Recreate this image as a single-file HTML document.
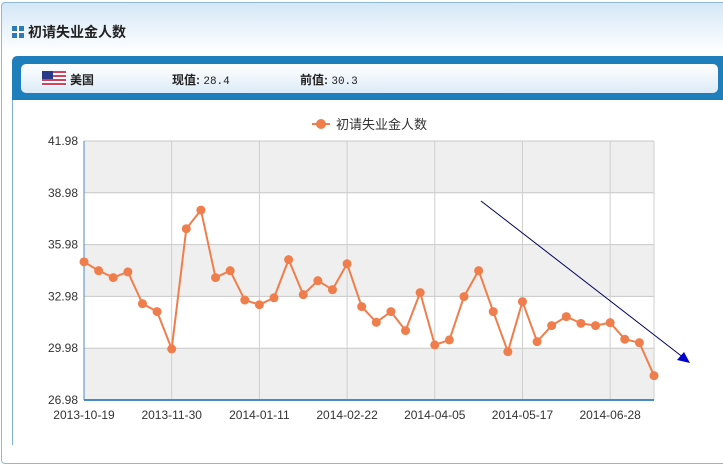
<!DOCTYPE html>
<html><head><meta charset="utf-8">
<style>
body{margin:0;width:723px;height:440px;overflow:hidden;background:#fff;font-family:"Liberation Sans","Noto Sans CJK SC",sans-serif;position:relative}
.frame{position:absolute;left:1px;top:2px;width:740px;height:460px;border:1px solid #8fb8d6;border-radius:4px;background:linear-gradient(#d4e7f6,#fff 50px)}
.title{position:absolute;left:12px;top:22px;font-size:14px;font-weight:bold;color:#222}
.icon{display:inline-block;width:12px;height:12px;vertical-align:-1px;margin-right:4px;background:
linear-gradient(#fff,#fff) 5px 0/2px 12px no-repeat,linear-gradient(#fff,#fff) 0 5px/12px 2px no-repeat,#2c7bb6}
.band{position:absolute;left:12px;top:56px;width:720px;height:44px;background:#1f7fbd;border-radius:5px 0 0 0}
.inner{position:absolute;left:21px;top:64px;width:697px;height:29px;border-radius:5px;background:linear-gradient(#fff,#dcebf7)}
.panel{position:absolute;left:12px;top:100px;width:720px;height:345px;border-left:1px solid #7fb0d4;background:#fff}
.lbl{position:absolute;top:71px;font-size:12px;font-weight:bold;color:#222}
.val{font-weight:normal;font-family:"Liberation Mono",monospace;font-size:11px}
</style></head><body>
<div class="frame"></div>
<div class="title"><span class="icon"></span>初请失业金人数</div>
<div class="band"></div>
<div class="inner"></div>
<svg style="position:absolute;left:42px;top:71px" width="24" height="15">
<rect width="24" height="15" fill="#fff"/><g fill="#d2425a"><rect y="0" width="24" height="2"/><rect y="4" width="24" height="2"/><rect y="8" width="24" height="2"/><rect y="12" width="24" height="2"/></g><rect width="11" height="8" fill="#2a3a8a"/></svg>
<div class="lbl" style="left:70px">美国</div>
<div class="lbl" style="left:172px">现值: <span class="val">28.4</span></div>
<div class="lbl" style="left:300px">前值: <span class="val">30.3</span></div>
<div class="panel"></div>
<svg id="chart" style="position:absolute;left:0;top:0" width="723" height="440"></svg>
<script>
const values=[34.98,34.47,34.07,34.4,32.56,32.1,29.94,36.9,37.98,34.07,34.47,32.77,32.5,32.9,35.11,33.08,33.89,33.37,34.87,32.39,31.48,32.1,31.0,33.2,30.17,30.46,32.97,34.47,32.1,29.78,32.68,30.36,31.29,31.81,31.42,31.29,31.46,30.5,30.3,28.39];
const xLabels=["2013-10-19","2013-11-30","2014-01-11","2014-02-22","2014-04-05","2014-05-17","2014-06-28"];
const yTicks=[26.98,29.98,32.98,35.98,38.98,41.98];
const NS="http://www.w3.org/2000/svg";
const svg=document.getElementById('chart');
const X0=84,X1=654,Y0=400,Y1=141,ymin=26.98,ymax=41.98;
const n=values.length;
function sx(i){return X0+(X1-X0)*i/(n-1);}
function sy(v){return Y0-(v-ymin)/(ymax-ymin)*(Y0-Y1);}
function mk(t,a){const e=document.createElementNS(NS,t);for(const k in a)e.setAttribute(k,a[k]);svg.appendChild(e);return e;}
// bands
for(let i=0;i<yTicks.length-1;i++){
 if(i%2===0){const b=mk('rect',{x:X0,y:sy(yTicks[i+1]),width:X1-X0,height:sy(yTicks[i])-sy(yTicks[i+1]),fill:'#efefef'});
 
 }
}
yTicks.forEach(v=>{
 const l=mk('line',{x1:X0,x2:X1,y1:sy(v),y2:sy(v),stroke:'#c8c8c8','stroke-width':1});
 
 
 const t=mk('text',{x:X0-6,y:sy(v)+4,'text-anchor':'end','font-size':12,fill:'#333'});t.textContent=v.toFixed(2);
 
 
});
xLabels.forEach((s,k)=>{
 const x=sx(k*6);
 const l=mk('line',{x1:x,x2:x,y1:Y1,y2:Y0,stroke:'#cfcfcf','stroke-width':1});
 
 
 const t=mk('text',{x:x,y:Y0+19,'text-anchor':'middle','font-size':12,fill:'#333'});t.textContent=s;
 
 
});
const rb=mk('line',{x1:X1,x2:X1,y1:Y1,y2:Y0,stroke:'#cfcfcf'});


const ya=mk('line',{x1:X0,x2:X0,y1:Y1,y2:Y0,stroke:'#4a8ac0','stroke-width':1});


const xa=mk('line',{x1:X0,x2:X1,y1:Y0,y2:Y0,stroke:'#4a8ac0','stroke-width':2});


const pl=mk('polyline',{points:values.map((v,i)=>sx(i)+','+sy(v)).join(' '),fill:'none',stroke:'#f07e4c','stroke-width':2});


values.forEach((v,i)=>{const c=mk('circle',{cx:sx(i),cy:sy(v),r:4.5,fill:'#f07e4c'});
 
 });
// legend
const ll=mk('line',{x1:312,x2:330,y1:124,y2:124,stroke:'#f07e4c','stroke-width':2});


const lc=mk('circle',{cx:321,cy:124,r:5,fill:'#f07e4c'});


const lt=mk('text',{x:336,y:129,'font-size':13,fill:'#333'});lt.textContent='初请失业金人数';


// trend arrow
const ar=mk('line',{x1:481,y1:201,x2:684,y2:358,stroke:'#000066','stroke-width':1});


const ah=mk('polygon',{points:'690,363 677,360 684,352',fill:'#0000cc'});


</script>
</body></html>
